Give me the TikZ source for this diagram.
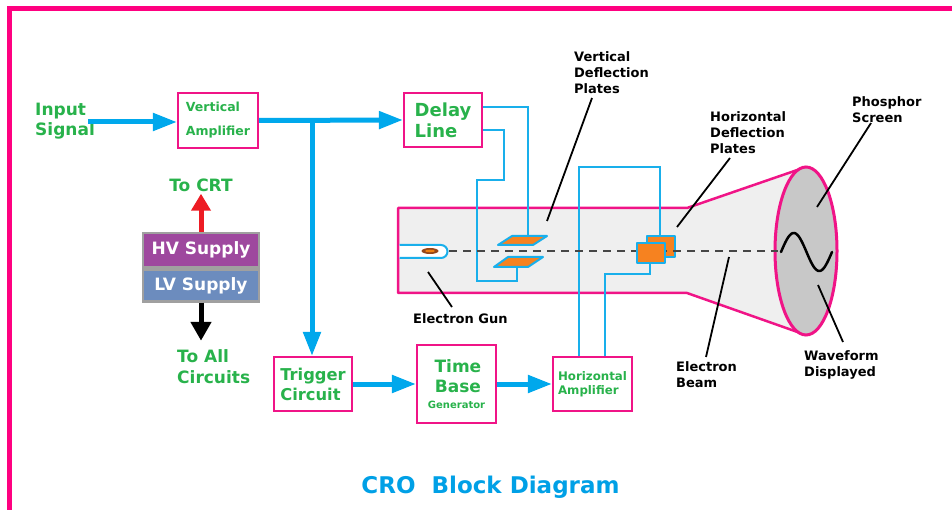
\documentclass[tikz,border=0pt]{standalone}
\usepackage{fontspec}
\setmainfont{DejaVu Sans}
\usetikzlibrary{arrows.meta,calc}

\definecolor{framepink}{RGB}{255,0,128}
\definecolor{boxpink}{RGB}{240,20,135}
\definecolor{lblgreen}{RGB}{40,178,75}
\definecolor{sigblue}{RGB}{0,168,236}
\definecolor{wireblue}{RGB}{25,175,235}
\definecolor{plateorange}{RGB}{246,130,32}
\definecolor{tubegray}{RGB}{239,239,239}
\definecolor{screengray}{RGB}{200,200,200}
\definecolor{hvpurple}{RGB}{158,72,158}
\definecolor{lvblue}{RGB}{108,140,190}
\definecolor{supplygray}{RGB}{160,160,160}
\definecolor{titleblue}{RGB}{0,160,230}
\definecolor{beamgray}{RGB}{70,70,70}
\definecolor{gunbrown}{RGB}{150,70,25}
\definecolor{hvred}{RGB}{237,28,36}

\newcommand\fsz[2]{\fontsize{#1}{#2}\selectfont}

\tikzset{
  block/.style={draw=boxpink, line width=2.2pt, fill=white, text=lblgreen,
    inner sep=0pt, align=left},
  greentext/.style={text=lblgreen, inner sep=0pt, align=left},
  blacktext/.style={text=black, inner sep=0pt, align=left, font=\bfseries\fsz{13}{16}},
  sigarrow/.style={draw=sigblue, line width=5pt, -{Triangle[length=24pt,width=17pt]}},
  sigline/.style={draw=sigblue, line width=5pt},
  wire/.style={draw=wireblue, line width=2pt},
  plate/.style={draw=wireblue, line width=2pt, fill=plateorange, line join=round},
  leader/.style={draw=black, line width=1.8pt},
  supply/.style={draw=supplygray, line width=2.5pt, text=white, inner sep=0pt,
    minimum width=116pt, font=\bfseries\fsz{17}{20}},
}

\begin{document}
\begin{tikzpicture}[x=1pt,y=-1pt]
\useasboundingbox (0,0) rectangle (952,510);

% outer frame
\draw[framepink, line width=4.5pt] (9.5,520) -- (9.5,8.7) -- (960,8.7);

% CRT body: neck and flared cone
\fill[tubegray] (398,208) -- (687,208) -- (806,167) -- (806,335) -- (687,293) -- (398,293) -- cycle;
\draw[boxpink, line width=2.5pt, line join=round]
  (806,167) -- (687,208) -- (398,208) -- (398,293) -- (687,293) -- (806,335);

% phosphor screen and trace
\draw[boxpink, line width=3pt, fill=screengray] (806,251) ellipse[x radius=31, y radius=84];
\draw[black, line width=2.5pt, line cap=round]
  plot[domain=0:360, samples=60] ({781+\x/360*51},{252-19*sin(\x)});

% electron gun
\draw[wireblue, line width=2pt, fill=white]
  (399.5,245) -- (441,245) arc[start angle=-90, end angle=90, radius=6.5] -- (399.5,258);
\fill[gunbrown] (430,251) ellipse[x radius=8.5, y radius=3];
\fill[orange!70!brown] (430,251) ellipse[x radius=5, y radius=1.3];

\coordinate (hw1) at (579,0);
\coordinate (hw2) at (605,0);

% blocks
\node[block, minimum width=80pt, minimum height=55pt, font=\bfseries\fsz{12.5}{24}]
  (va) at (218,120.5) {Vertical\\Amplifier};
\node[block, minimum width=78pt, minimum height=54pt, font=\bfseries\fsz{18}{21}]
  (dl) at (443,120) {Delay\\Line};
\node[block, minimum width=78pt, minimum height=54pt, font=\bfseries\fsz{16.3}{20}]
  (trig) at (313,384) {Trigger\\Circuit};
\node[block, minimum width=79pt, minimum height=78pt, align=center, font=\bfseries\fsz{17}{20}]
  (tb) at (456.5,384) {\,Time\\\,Base\\[-4pt]{\fsz{10}{20}Generator}};
\node[block, minimum width=79pt, minimum height=54pt, font=\bfseries\fsz{11.8}{14}]
  (ha) at (592.5,384) {Horizontal\\Amplifier};

% plate wiring
\draw[wire] ([yshift=13pt]dl.east) -| (528,236);
\draw[wire] ([yshift=-10pt]dl.east) -| (504,180) -| (477,281) -| (517,267);
\draw[wire] (660,236) |- (hw1 |- 0,167) -- (hw1 |- ha.north);
\draw[wire] (650,263) |- (hw2 |- 0,274) -- (hw2 |- ha.north);

% vertical deflection plates
\draw[plate] (512,236) -- (547,236) -- (533,245) -- (498,245) -- cycle;
\draw[plate] (508,257) -- (543,257) -- (528,267) -- (494,267) -- cycle;

% horizontal deflection plates (rear), beam, front plate
\draw[plate] (647,236) rectangle (675,257);
\draw[beamgray, line width=2pt, dash pattern=on 8pt off 6pt] (449,251) -- (778,251);
\draw[plate] (637,243) rectangle (665,263);

% signal path
\node[greentext, anchor=west, font=\bfseries\fsz{17}{20}] (insig) at (35,121) {Input\\Signal};
\coordinate (inp) at (88,122);
\draw[sigarrow] (inp) -- (inp -| va.west);
\draw[sigarrow] (va.east) -- (dl.west);
\coordinate (jn) at (312,122);
\draw[sigline] (jn) -- ++(0,-2.5);
\draw[sigarrow] (jn) -- (jn |- trig.north);
\draw[sigarrow] (trig.east) -- (tb.west);
\draw[sigarrow] (tb.east) -- (ha.west);

% power supplies
\node[supply, fill=hvpurple, minimum height=34pt] (hv) at (201,250) {HV Supply};
\node[supply, fill=lvblue, minimum height=32pt, anchor=north] (lv) at (hv.south) {LV Supply};
\node[greentext, font=\bfseries\fsz{17}{20}] (tocrt) at (201,185) {To CRT};
\node[greentext, anchor=west, font=\bfseries\fsz{17}{21}] (toall) at (177,367) {To All\\Circuits};
\draw[hvred, line width=5pt, -{Triangle[length=17pt,width=19pt]}] (hv.north) -- ++(0,-38);
\draw[black, line width=5pt, -{Triangle[length=19pt,width=20pt]}] (lv.south) -- ++(0,38);

% part labels and leaders
\node[blacktext, anchor=west] (vdp) at (574,73) {Vertical\\Deflection\\Plates};
\node[blacktext, anchor=west] (hdp) at (710,133) {Horizontal\\Deflection\\Plates};
\node[blacktext, anchor=west, font=\bfseries\fsz{13}{15.5}] (phs) at (852,109.5) {Phosphor\\Screen};
\node[blacktext, anchor=west] (wfd) at (804,365) {Waveform\\Displayed};
\node[blacktext, anchor=west] (ebm) at (676,375) {Electron\\Beam};
\node[blacktext, anchor=west] (egn) at (413,319) {Electron Gun};

\coordinate (vdp-end) at (547,221);
\coordinate (hdp-end) at (677,227);
\coordinate (phs-end) at (817,207);
\coordinate (wfd-end) at (818,285);
\coordinate (ebm-end) at (729,257);
\coordinate (egn-end) at (428,272);
\draw[leader] (592,98) -- (vdp-end);
\draw[leader] (730,158) -- (hdp-end);
\draw[leader] (871,123) -- (phs-end);
\draw[leader] (843,342) -- (wfd-end);
\draw[leader] (706,357) -- (ebm-end);
\draw[leader] (452,307) -- (egn-end);

% title
\node[text=titleblue, font=\bfseries\fsz{23}{28}, inner sep=0pt] (title) at (490.5,487) {CRO\ \ Block Diagram};
\end{tikzpicture}
\end{document}
